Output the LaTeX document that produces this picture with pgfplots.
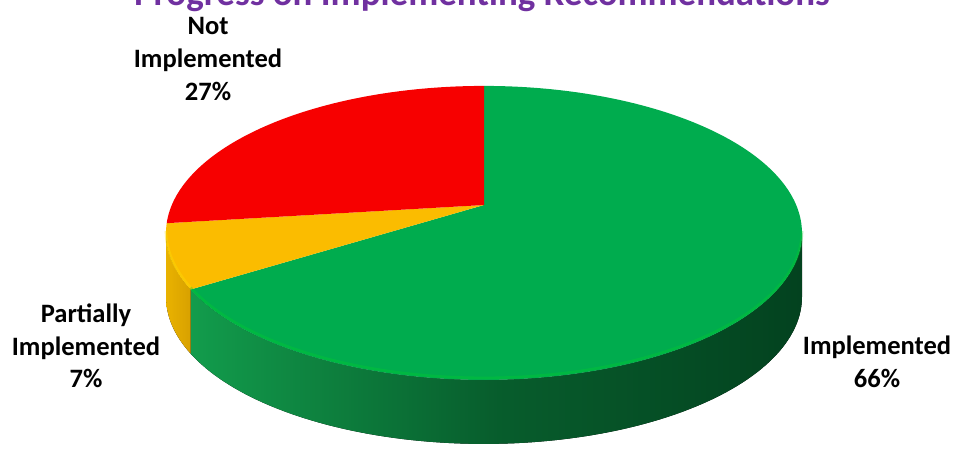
\documentclass[border=0pt]{standalone}
\usepackage{fontspec}
\setmainfont{Carlito}
\usepackage{pgfplots}
\pgfplotsset{compat=1.18}
\usepgfplotslibrary{fillbetween}

\definecolor{cGreen}{HTML}{00AC4E}
\definecolor{cYellow}{HTML}{FBBC00}
\definecolor{cRed}{HTML}{F70000}
\definecolor{gSideL}{HTML}{129C4C}
\definecolor{gSideR}{HTML}{03421F}
\definecolor{ySideL}{HTML}{E9B200}
\definecolor{ySideR}{HTML}{D8A100}
\definecolor{titlepurple}{HTML}{7030A0}

% data (percent)
\def\vImpl{66}
\def\vPart{7}
\def\vNot{27}

\begin{document}
\begin{tikzpicture}
\pgfmathsetmacro\aA{90}
\pgfmathsetmacro\aB{90-3.6*\vImpl}
\pgfmathsetmacro\aC{\aB-3.6*\vPart}
\pgfmathsetmacro\aD{\aC-3.6*\vNot}
\pgfmathsetmacro\phiL{-180+asin(0.19)}
\pgfmathsetmacro\phiR{-asin(0.19)}
\begin{axis}[
  scale only axis, width=715.5pt, height=339pt,
  xmin=0, xmax=954, ymin=0, ymax=452, y dir=reverse,
  hide axis, clip=false,
  declare function={
    px(\t)=484+312.2*cos(\t)/(1+0.19*sin(\t));
    py(\t)=205-141.7*sin(\t)/(1+0.19*sin(\t));
  },
]
% ---- sides ----
\addplot[draw=none, name path=gT, domain=\aB:\phiR, samples=100, variable=\t] ({px(\t)},{py(\t)});
\addplot[draw=none, name path=gB, domain=\aB:\phiR, samples=100, variable=\t] ({px(\t)},{py(\t)+64});
\addplot[left color=gSideL, right color=gSideR, middle color=gSideR!70!gSideL] fill between[of=gT and gB];

\addplot[draw=none, name path=yT, domain=\phiL:\aB, samples=40, variable=\t] ({px(\t)},{py(\t)});
\addplot[draw=none, name path=yB, domain=\phiL:\aB, samples=40, variable=\t] ({px(\t)},{py(\t)+64});
\addplot[left color=ySideL, right color=ySideR] fill between[of=yT and yB];

% ---- top faces ----
\addplot[fill=cGreen, draw=none, domain=\aB:\aA, samples=160, variable=\t] ({px(\t)},{py(\t)}) -- (484,205) -- cycle;
\addplot[fill=cYellow, draw=none, domain=\aC:\aB, samples=30, variable=\t] ({px(\t)},{py(\t)}) -- (484,205) -- cycle;
\addplot[fill=cRed, draw=none, domain=\aD:\aC, samples=80, variable=\t] ({px(\t)},{py(\t)}) -- (484,205) -- cycle;

% rim highlights
\addplot[draw=green!50!cGreen, opacity=0.3, line width=2pt, domain=\aB:\phiR, samples=100, variable=\t] ({px(\t)},{py(\t)-2});
\addplot[draw=yellow!60!cYellow, opacity=0.4, line width=2pt, domain=\phiL:\aB, samples=30, variable=\t] ({px(\t)},{py(\t)-2});

% ---- labels ----
\node[anchor=base, inner sep=0, text=titlepurple, font=\fontsize{27.7}{33}\selectfont\bfseries] at (482,6) {Progress on Implementing Recommendations};
\node[align=center, inner sep=0, font=\fontsize{19.9}{24.4}\selectfont\bfseries] at (208,59) {Not\\Implemented\\27\%};
\node[align=center, inner sep=0, font=\fontsize{19.9}{24.4}\selectfont\bfseries] at (86,346) {Partially\\Implemented\\7\%};
\node[align=center, inner sep=0, font=\fontsize{19.9}{24.4}\selectfont\bfseries] at (877,362) {Implemented\\66\%};
\end{axis}
\pgfresetboundingbox
\path[use as bounding box] (current axis.south west) rectangle (current axis.north east);
\end{tikzpicture}
\end{document}
